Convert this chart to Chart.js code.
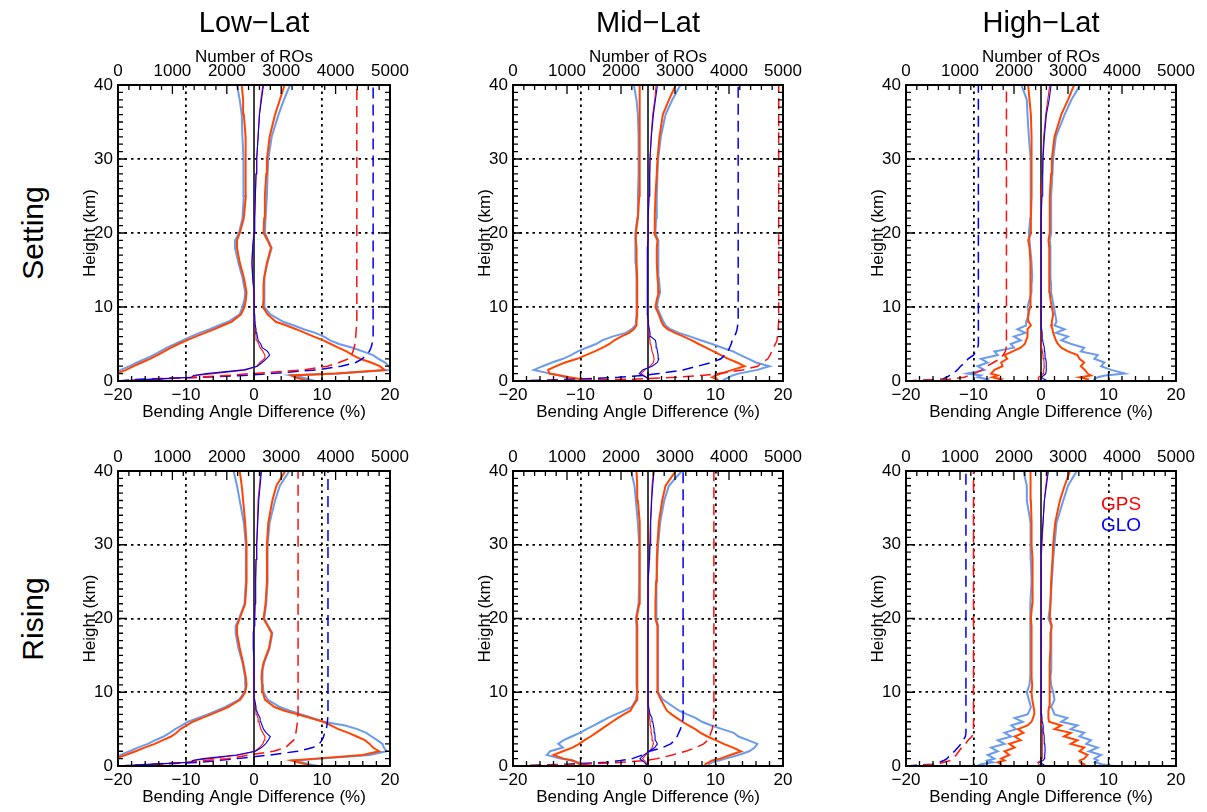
<!DOCTYPE html>
<html><head><meta charset="utf-8">
<script src="https://cdn.jsdelivr.net/npm/chart.js@4.4.1/dist/chart.umd.min.js"></script>
<style>
body{margin:0;background:#fff;width:1207px;height:812px;position:relative;overflow:hidden;font-family:"Liberation Sans",Arial,Helvetica,sans-serif}
canvas{position:absolute}
.t{position:absolute;color:#000;white-space:nowrap;line-height:1;transform:translate(-50%,-50%)}
</style></head><body>
<script>
// ---------------- DATA ----------------
// Height levels (km), shared by every profile
const H = [0,0.25,0.5,0.75,1, 1.5,2,2.5,3,3.5,4,4.5,5,5.5,6,6.5,7,7.5,8, 9,10,11,12,13,14, 16,18,19,20,22,25,28,30,33,36,38,40];
const columnTitles = ["Low\u2212Lat","Mid\u2212Lat","High\u2212Lat"];
const rowTitles = ["Setting","Rising"];
const seriesNames = ["GPS","GLO"];
const xTicks = [-20,-10,0,10,20];
const roTicks = [0,1000,2000,3000,4000,5000];
const hTicks = [0,10,20,30,40];

// Low-Lat Setting
const lowSetGpsLo  = [-25,-25,-25,-22,-20.2, -18.8,-17.7,-16.5,-15.3,-14.2,-13.2,-12.2,-11.1,-9.9,-8.6,-7.2,-5.8,-4.6,-3.3, -1.9,-1.4,-1.2,-1.1,-1.3,-1.5, -2.1,-2.5,-2.5,-2.1,-1.5,-1.2,-1.2,-1.2,-1.3,-1.5,-1.6,-1.8];
const lowSetGpsHi  = [8,7,6,5.5,12, 19.2,18.5,17.2,15.6,14.5,13.6,12.4,11.3,10.2,8.8,7.5,6.2,4.8,3.2, 2.0,1.3,1.4,1.4,1.4,1.5, 1.9,2.5,2.0,1.4,1.5,1.6,1.8,1.9,2.3,3.1,3.8,4.5];
const lowSetGloLo  = [-25,-25,-25,-23,-21, -19.6,-18.3,-17.2,-16,-14.8,-13.8,-12.8,-11.6,-10.5,-9.3,-8,-6.5,-5.2,-3.8, -2.1,-1.7,-1.4,-1.3,-1.5,-1.7, -2.3,-2.8,-2.8,-2.2,-1.7,-1.5,-1.5,-1.6,-1.7,-1.8,-2.1,-2.5];
const lowSetGloHi  = [9,8,7,5.5,12.5, 20.2,19.8,19.3,18.3,17.5,16,14.5,12.5,11.2,10.3,9,7.3,5.9,4.3, 2.4,1.5,1.5,1.5,1.5,1.6, 2.0,2.6,2.1,1.6,1.7,1.9,2.0,2.1,2.6,3.6,4.4,5.3];
const lowSetGpsMean= [-20,-14,-9,-8.5,-6, -1.2,0.4,0.9,1.5,1.6,1.3,0.9,0.7,0.4,0.3,0.25,0.2,0.15,0.1, 0.05,0,0,0,-0.1,-0.2, -0.3,-0.2,-0.1,0,0.1,0.2,0.3,0.4,0.6,0.8,1.0,1.3];
const lowSetGloMean= [-20,-15,-9.2,-8.9,-7, -1.5,0.5,1.2,1.8,2.3,2.0,1.2,1.0,0.6,0.5,0.4,0.3,0.2,0.15, 0.1,0.05,0,0,-0.1,-0.2, -0.3,-0.2,-0.1,0,0.1,0.2,0.3,0.4,0.6,0.8,1.1,1.4];
const lowSetGpsN   = [0,700,1450,2000,2450, 3400,3850,4060,4240,4290,4320,4340,4355,4365,4370,4375,4380,4385,4390, 4390,4390,4390,4390,4390,4390, 4390,4390,4390,4390,4390,4390,4390,4390,4390,4390,4390,4390];
const lowSetGloN   = [0,400,1500,2300,2800, 3650,4100,4370,4490,4560,4620,4650,4670,4680,4690,4690,4690,4690,4690, 4690,4690,4690,4690,4690,4690, 4690,4690,4690,4690,4690,4690,4690,4690,4690,4690,4690,4690];

// Mid-Lat Setting
const midSetGpsLo  = [-9,-9.9,-11.6,-13,-14.6, -14.8,-13.6,-12.3,-10.5,-9.2,-7.9,-6.7,-5.7,-5.0,-4.0,-2.8,-2.1,-1.7,-1.7, -1.6,-1.6,-1.6,-1.6,-1.6,-1.6, -1.7,-1.7,-1.8,-1.8,-1.5,-1.3,-1.2,-1.2,-1.2,-1.2,-1.3,-1.3];
const midSetGpsHi  = [10.5,10.2,9.5,10,10.8, 12.5,14.3,13.2,11.9,10.8,9.7,8.6,7.5,6.5,5.3,4.0,2.9,2.3,2.0, 1.6,1.1,1.3,1.6,1.5,1.4, 1.3,1.3,1.4,0.9,1.0,1.1,1.3,1.4,1.7,2.2,3.1,4.1];
const midSetGloLo  = [-10.5,-11.2,-12.2,-13.1,-14.5, -16.9,-15.6,-14.2,-12.6,-11.4,-10.4,-9.1,-7.7,-6.8,-5.3,-3.3,-2.4,-1.9,-1.8, -1.7,-1.7,-1.7,-1.7,-1.7,-1.7, -1.8,-1.8,-1.9,-1.9,-1.6,-1.5,-1.4,-1.4,-1.4,-1.5,-1.7,-2.1];
const midSetGloHi  = [11,11.4,12,12.5,13.4, 16.2,18.0,16.0,14.9,13.7,12.6,11.0,9.5,7.8,6.3,4.6,3.3,2.6,2.3, 1.8,1.3,1.5,1.8,1.7,1.6, 1.5,1.5,1.6,1.1,1.2,1.3,1.4,1.5,1.9,2.6,3.6,4.8];
const midSetGpsMean= [0,0,-0.2,-0.6,-1.0, -0.5,0.3,0.8,0.9,0.8,0.6,0.5,0.4,0.3,0.2,0.15,0.1,0.05,0, -0.1,-0.1,-0.1,-0.1,-0.1,-0.1, -0.1,-0.05,0,0,0.05,0.15,0.25,0.3,0.45,0.7,1.0,1.2];
const midSetGloMean= [0,0.1,-0.3,-0.8,-1.3, -0.8,0.6,1.4,1.6,1.5,1.4,1.3,1.2,1.1,0.4,0.3,0.2,0.1,0.05, -0.1,-0.1,-0.1,-0.1,-0.1,-0.1, -0.1,-0.05,0,0,0.05,0.15,0.25,0.3,0.5,0.8,1.1,1.4];
const midSetGpsN   = [0,2200,3000,3500,3810, 4250,4530,4610,4720,4760,4790,4820,4860,4890,4895,4905,4910,4915,4920, 4920,4920,4920,4920,4920,4920, 4920,4920,4920,4920,4920,4920,4920,4920,4920,4920,4920,4920];
const midSetGloN   = [0,1200,1950,2400,2700, 3150,3420,3680,3850,3920,3980,4010,4040,4060,4100,4130,4150,4160,4170, 4170,4170,4170,4170,4170,4170, 4170,4170,4170,4170,4170,4170,4170,4170,4170,4170,4170,4170];

// High-Lat Setting
const highSetGpsLo  = [-6.5,-5.9,-7.2,-6.4,-7.4, -6.9,-5.7,-5.9,-5.0,-5.4,-4.2,-3.0,-2.4,-2.2,-2.0,-2.0,-2.0,-1.5,-1.8, -1.9,-1.6,-1.6,-1.5,-1.5,-1.6, -1.6,-1.7,-1.9,-1.5,-1.5,-1.4,-1.4,-1.4,-1.4,-1.5,-1.7,-1.9];
const highSetGpsHi  = [6.5,6.9,5.7,7.4,6.9, 6.5,5.9,6.4,5.7,5.4,4.0,3.0,2.5,2.2,2.0,1.8,1.7,1.5,1.6, 1.8,1.6,1.4,1.3,1.3,1.2, 1.2,1.2,1.1,1.3,1.3,1.3,1.5,1.6,2.0,3.0,4.0,4.9];
const highSetGloLo  = [-8.5,-7.9,-9.4,-8.9,-10.9, -8.4,-9.4,-7.9,-8.9,-6.4,-6.9,-4.0,-4.5,-3.0,-4.0,-2.3,-3.5,-2.2,-2.2, -1.8,-2.0,-1.7,-1.4,-1.4,-1.3, -1.4,-1.6,-1.7,-1.8,-1.6,-1.5,-1.5,-1.6,-1.8,-2.0,-2.1,-2.9];
const highSetGloHi  = [8,7.9,8.4,9.5,12.4, 10.4,8.9,9.4,7.9,8.4,5.9,6.4,4.5,3.0,4.0,2.2,3.5,2.0,2.3, 2.1,1.9,1.7,1.5,1.5,1.4, 1.4,1.4,1.3,1.5,1.5,1.5,1.7,1.8,2.2,3.5,4.5,5.8];
const highSetGpsMean= [-0.5,-0.3,-0.4,0,0.3, 0.4,0.5,0.45,0.4,0.3,0.2,0.1,0.05,0.05,0.05,0.05,0.05,0,0, 0,0,0,0,0,0, 0,0,0,0,0.05,0.1,0.2,0.25,0.4,0.7,1.0,1.3];
const highSetGloMean= [1.0,0.5,0,0.4,0.7, 0.8,0.8,0.75,0.7,0.6,0.55,0.5,0.35,0.25,0.2,0.15,0.1,0.1,0.05, 0,0,0,0,0,0, 0,0,0,0,0.05,0.15,0.25,0.3,0.5,0.8,1.2,1.5];
const highSetGpsN   = [0,800,1080,1170,1260, 1420,1500,1620,1740,1800,1840,1855,1860,1860,1860,1860,1860,1860,1860, 1860,1860,1860,1860,1860,1860, 1860,1860,1860,1860,1860,1860,1860,1860,1860,1860,1860,1860];
const highSetGloN   = [0,675,750,810,875, 950,1010,1100,1150,1250,1300,1330,1340,1340,1340,1340,1340,1340,1340, 1340,1340,1340,1340,1340,1340, 1340,1340,1340,1340,1340,1340,1340,1340,1340,1340,1340,1340];

// Low-Lat Rising
const lowRiseGpsLo  = [-25,-25,-25,-22,-20.4, -18.9,-17.4,-16.1,-14.6,-13.4,-12.2,-11.4,-10.8,-9.9,-9.0,-7.7,-6.3,-5.0,-3.8, -2.0,-1.3,-1.1,-1.2,-1.4,-1.6, -2.1,-2.5,-2.5,-2.1,-1.3,-1.1,-1.1,-1.1,-1.3,-1.6,-1.8,-2.1];
const lowRiseGpsHi  = [8.5,7.5,6.5,5.5,9, 16,18.4,17.5,17.0,16.3,15.1,13.9,12.4,11.3,10.2,8.3,6.4,4.5,3.0, 1.6,1.3,1.2,1.1,1.2,1.4, 2.2,2.6,2.0,1.4,1.7,1.9,1.9,1.9,2.1,2.7,3.3,4.6];
const lowRiseGloLo  = [-25,-25,-25,-23,-21, -19.6,-18.3,-17.1,-15.6,-14.5,-13.3,-12.4,-11.6,-10.6,-9.7,-8.3,-6.8,-5.5,-4.2, -2.2,-1.4,-1.2,-1.3,-1.5,-1.7, -2.3,-2.7,-2.7,-2.2,-1.4,-1.2,-1.2,-1.2,-1.5,-2.1,-2.5,-3.0];
const lowRiseGloHi  = [9.5,8,7,6,10, 17,19.5,19.1,18.9,18.1,17.3,16.5,15.2,13.4,10.2,8.6,7.0,5.3,3.8, 2.0,1.4,1.3,1.2,1.3,1.5, 2.3,2.7,2.1,1.5,1.8,2.0,2.0,2.0,2.3,3.1,3.8,5.2];
const lowRiseGpsMean= [-20,-14,-9.5,-9,-6.5, -2.2,0.1,0.8,1.3,1.5,1.6,1.3,1.0,0.85,0.7,0.6,0.4,0.3,0.2, 0.05,0,0,0,0,0, -0.1,-0.1,0,0.1,0.15,0.2,0.3,0.4,0.5,0.6,0.8,1.0];
const lowRiseGloMean= [-20,-15,-9.2,-9,-7.5, -2.6,0.2,1.1,1.7,2.1,2.4,1.8,1.4,1.2,1.0,0.9,0.6,0.4,0.3, 0.1,0,0,0,0,0, -0.1,-0.1,0,0.1,0.15,0.25,0.3,0.4,0.55,0.7,0.9,1.1];
const lowRiseGpsN   = [0,640,1250,1620,2020, 2420,2860,3080,3150,3230,3260,3270,3280,3290,3300,3300,3310,3310,3310, 3310,3310,3310,3310,3310,3310, 3310,3310,3310,3310,3310,3310,3310,3310,3310,3310,3310,3310];
const lowRiseGloN   = [0,760,1500,1850,2190, 2800,3300,3580,3700,3750,3780,3800,3830,3840,3850,3855,3860,3860,3860, 3860,3860,3860,3860,3860,3860, 3860,3860,3860,3860,3860,3860,3860,3860,3860,3860,3860,3860];

// Mid-Lat Rising
const midRiseGpsLo  = [-9.5,-10.2,-10.6,-11.2,-12.5, -14.0,-12.6,-11.2,-10.2,-9.4,-8.5,-7.7,-6.9,-6.1,-5.3,-4.5,-3.6,-2.6,-2.3, -1.6,-1.5,-1.6,-1.6,-1.6,-1.6, -1.6,-1.6,-1.6,-1.7,-1.3,-1.2,-1.2,-1.2,-1.3,-1.5,-1.6,-1.7];
const midRiseGpsHi  = [8.5,8.5,9.0,9.5,10.7, 12.2,13.8,12.6,11.2,10.0,8.8,7.8,7.0,6.0,5.1,4.3,3.5,2.8,2.5, 1.9,1.4,1.4,1.4,1.4,1.4, 1.4,1.4,1.4,1.1,1.1,1.2,1.3,1.4,1.6,2.1,2.6,4.1];
const midRiseGloLo  = [-9.2,-9.6,-10.4,-11.2,-13.0, -15.0,-14.5,-12.6,-13.3,-12.5,-11.3,-10.1,-9.1,-8.0,-7.0,-6.0,-4.8,-3.5,-2.4, -1.8,-1.6,-1.7,-1.7,-1.7,-1.7, -1.7,-1.7,-1.7,-1.8,-1.4,-1.3,-1.3,-1.3,-1.5,-1.8,-2.0,-2.5];
const midRiseGloHi  = [9.0,9.0,9.5,10.5,11.5, 13.4,15.0,15.8,16.2,14.8,13.4,12.7,11.0,9.4,8.0,7.1,5.8,4.6,3.8, 2.2,1.5,1.5,1.5,1.5,1.5, 1.5,1.5,1.5,1.2,1.2,1.3,1.4,1.5,1.8,2.4,3.1,5.0];
const midRiseGpsMean= [-0.2,-0.2,-0.3,-0.6,-0.8, -0.3,0.2,0.6,0.8,0.7,0.6,0.5,0.45,0.35,0.3,0.25,0.2,0.1,0.05, 0,0,0,0,0,0, 0,0,0,0,0.05,0.1,0.2,0.25,0.35,0.5,0.6,0.8];
const midRiseGloMean= [-0.2,-0.3,-0.5,-0.9,-1.2, -0.6,0.2,1.0,1.4,1.1,1.05,1.0,0.9,0.8,0.7,0.6,0.3,0.2,0.1, 0,0,0,0,0,0, 0,0,0,0,0.05,0.1,0.2,0.3,0.4,0.55,0.7,0.9];
const midRiseGpsN   = [0,1350,2020,2460,2670, 2950,3200,3390,3530,3610,3640,3665,3690,3700,3710,3715,3720,3720,3720, 3720,3720,3720,3720,3720,3720, 3720,3720,3720,3720,3720,3720,3720,3720,3720,3720,3720,3720];
const midRiseGloN   = [0,1000,1720,1990,2210, 2400,2530,2770,2920,3000,3040,3070,3100,3120,3140,3150,3150,3150,3150, 3150,3150,3150,3150,3150,3150, 3150,3150,3150,3150,3150,3150,3150,3150,3150,3150,3150,3150];

// High-Lat Rising
const highRiseGpsLo  = [-6.0,-5.9,-6.4,-5.4,-5.9, -4.7,-5.4,-3.9,-4.7,-3.0,-3.9,-2.6,-3.4,-2.0,-1.4,-1.2,-1.0,-1.0,-1.1, -1.3,-1.4,-1.3,-1.4,-1.4,-1.4, -1.4,-1.4,-1.4,-1.5,-1.3,-1.2,-1.3,-1.4,-1.4,-1.5,-1.5,-1.6];
const highRiseGpsHi  = [6.0,6.4,5.8,5.7,6.4, 6.9,5.7,6.4,4.4,5.4,3.4,4.4,2.0,3.0,1.2,1.1,1.1,1.1,1.2, 1.2,1.3,1.3,1.3,1.3,1.3, 1.4,1.4,1.6,1.3,1.4,1.5,1.7,1.8,2.1,2.8,3.5,4.3];
const highRiseGloLo  = [-9.4,-8.9,-7.1,-7.9,-6.9, -7.9,-6.4,-7.4,-5.4,-6.4,-4.4,-5.4,-3.7,-4.4,-2.7,-3.9,-2.0,-1.7,-1.5, -1.8,-2.1,-1.7,-1.6,-1.6,-1.6, -1.6,-1.6,-1.6,-1.6,-1.5,-1.4,-1.5,-1.5,-1.6,-2.1,-2.1,-2.6];
const highRiseGloHi  = [10.8,9.0,8.0,8.4,7.9, 8.9,7.1,8.4,6.7,7.4,5.7,6.4,4.4,5.4,3.0,3.9,2.0,1.8,1.5, 2.0,1.8,1.5,1.4,1.5,1.5, 1.5,1.5,1.6,1.1,1.4,1.6,1.8,2.0,2.3,3.3,4.0,5.3];
const highRiseGpsMean= [-0.2,-0.3,-0.5,0,0.15, 0.2,0.2,0.2,0.2,0.2,0.2,0.15,0.15,0.1,0.1,0.05,0.05,0,0, 0,0,0,0,0,0, 0,0,0,0,0,0.05,0.1,0.15,0.3,0.5,0.7,1.0];
const highRiseGloMean= [0.6,0.3,-0.2,0.3,0.5, 0.55,0.6,0.6,0.55,0.5,0.45,0.4,0.35,0.3,0.2,0.15,0.1,0.05,0.05, 0,0,0,0,0,0, 0,0,0,0,0,0.05,0.1,0.1,0.3,0.5,0.8,1.1];
const highRiseGpsN   = [0,600,700,820,870, 930,980,1030,1100,1150,1220,1245,1250,1250,1250,1250,1250,1250,1250, 1250,1250,1250,1250,1250,1250, 1250,1250,1250,1250,1250,1250,1250,1250,1250,1250,1250,1250];
const highRiseGloN   = [0,500,620,700,760, 820,900,960,1020,1060,1100,1110,1110,1110,1110,1110,1110,1110,1110, 1110,1110,1110,1110,1110,1110, 1110,1110,1110,1110,1110,1110,1110,1110,1110,1110,1110,1110];

// zero reference line
const zeroX = [0,0];
const zeroH = [0,40];

// ---------------- LAYOUT ----------------
const COL_LEFT=[118,513,906], COL_W=[272,270,270], ROW_TOP=[85,471], ROW_H=[296,295];
const PAD_L=52, PAD_T=52, PAD_B=50, PAD_R=26;
const FONT='"Liberation Sans", Arial, Helvetica, sans-serif';
const C_GPS_ENV='#FF4500', C_GLO_ENV='#6A9BEE', C_GPS='#FF1010', C_GLO='#0000F0';

const PANELS=[
 {row:0,col:0,gLo:lowSetGpsLo,gHi:lowSetGpsHi,rLo:lowSetGloLo,rHi:lowSetGloHi,gM:lowSetGpsMean,rM:lowSetGloMean,gN:lowSetGpsN,rN:lowSetGloN},
 {row:0,col:1,gLo:midSetGpsLo,gHi:midSetGpsHi,rLo:midSetGloLo,rHi:midSetGloHi,gM:midSetGpsMean,rM:midSetGloMean,gN:midSetGpsN,rN:midSetGloN},
 {row:0,col:2,gLo:highSetGpsLo,gHi:highSetGpsHi,rLo:highSetGloLo,rHi:highSetGloHi,gM:highSetGpsMean,rM:highSetGloMean,gN:highSetGpsN,rN:highSetGloN},
 {row:1,col:0,gLo:lowRiseGpsLo,gHi:lowRiseGpsHi,rLo:lowRiseGloLo,rHi:lowRiseGloHi,gM:lowRiseGpsMean,rM:lowRiseGloMean,gN:lowRiseGpsN,rN:lowRiseGloN},
 {row:1,col:1,gLo:midRiseGpsLo,gHi:midRiseGpsHi,rLo:midRiseGloLo,rHi:midRiseGloHi,gM:midRiseGpsMean,rM:midRiseGloMean,gN:midRiseGpsN,rN:midRiseGloN},
 {row:1,col:2,gLo:highRiseGpsLo,gHi:highRiseGpsHi,rLo:highRiseGloLo,rHi:highRiseGloHi,gM:highRiseGpsMean,rM:highRiseGloMean,gN:highRiseGpsN,rN:highRiseGloN}
];

function addText(txt, cx, cy, size, color, rot){
  const d=document.createElement('div'); d.className='t'; d.textContent=txt;
  d.style.left=cx+'px'; d.style.top=cy+'px'; d.style.fontSize=size+'px'; d.style.color=color||'#000';
  if(rot) d.style.transform='translate(-50%,-50%) rotate(-90deg)';
  document.body.appendChild(d);
}

function pts(xs, hs){ return (hs||H).map((h,i)=>({x:xs[i], y:h})); }
function ln(xs, color, width, extra){
  return Object.assign({data:pts(xs), borderColor:color, backgroundColor:color, borderWidth:width,
    pointRadius:0, showLine:true, fill:false, tension:0}, extra||{});
}
const minusFmt = v => v<0 ? '\u2212'+Math.abs(v) : String(v);
const plainFmt = v => String(v);

const idlAxes={
  id:'idlAxes',
  afterDraw(chart){
    const {ctx, chartArea:a, scales:{x,x2,y}}=chart;
    ctx.save(); ctx.strokeStyle='#000'; ctx.lineWidth=1.3; ctx.beginPath();
    for(let v=-20; v<=20; v+=2){ const p=x.getPixelForValue(v); const L=(v%10===0)?9:5;
      ctx.moveTo(p,a.bottom); ctx.lineTo(p,a.bottom-L); }
    for(let n=0; n<=5000; n+=200){ const p=x2.getPixelForValue(n); const L=(n%1000===0)?9:5;
      ctx.moveTo(p,a.top); ctx.lineTo(p,a.top+L); }
    for(let h=0; h<=40; h+=1){ const p=y.getPixelForValue(h); const L=(h%10===0)?9:5;
      ctx.moveTo(a.left,p); ctx.lineTo(a.left+L,p); ctx.moveTo(a.right,p); ctx.lineTo(a.right-L,p); }
    ctx.stroke();
    ctx.lineWidth=2; ctx.strokeRect(a.left,a.top,a.right-a.left,a.bottom-a.top);
    ctx.restore();
  }
};

PANELS.forEach(P=>{
  const L=COL_LEFT[P.col], T=ROW_TOP[P.row], W=COL_W[P.col], Ht=ROW_H[P.row];
  const cv=document.createElement('canvas');
  cv.width=W+PAD_L+PAD_R; cv.height=Ht+PAD_T+PAD_B;
  cv.style.left=(L-PAD_L)+'px'; cv.style.top=(T-PAD_T)+'px';
  cv.style.width=cv.width+'px'; cv.style.height=cv.height+'px';
  document.body.appendChild(cv);
  const dash=[11,6];
  const datasets=[
    ln(P.rM, C_GLO, 1.1),
    ln(P.gM, C_GPS, 1.1),
    Object.assign(ln(zeroX,'#000',1.5),{data:pts(zeroX,zeroH)}),
    ln(P.gN, C_GPS, 1.5, {xAxisID:'x2', borderDash:dash}),
    ln(P.rN, C_GLO, 1.5, {xAxisID:'x2', borderDash:dash}),
    ln(P.gHi, C_GPS_ENV, 2),
    ln(P.gLo, C_GPS_ENV, 2),
    ln(P.rHi, C_GLO_ENV, 2),
    ln(P.rLo, C_GLO_ENV, 2)
  ];
  const tickFont={family:FONT,size:17};
  const titleFont={family:FONT,size:17};
  new Chart(cv,{
    type:'scatter',
    data:{datasets},
    options:{
      responsive:false, animation:false, devicePixelRatio:1, events:[],
      layout:{padding:{left:0,top:0,right:PAD_R,bottom:0}},
      plugins:{legend:{display:false},tooltip:{enabled:false}},
      scales:{
        x:{type:'linear',position:'bottom',min:-20,max:20,
          afterBuildTicks:s=>{s.ticks=xTicks.map(v=>({value:v}));},
          ticks:{color:'#000',font:tickFont,padding:4,maxRotation:0,autoSkip:false,callback:minusFmt},
          grid:{drawTicks:false,lineWidth:1.8,color:c=>(c.tick&&Math.abs(c.tick.value)===10)?'#000':'rgba(0,0,0,0)'},
          border:{display:false,dash:[2.5,4]},
          title:{display:true,text:'Bending Angle Difference (%)',color:'#000',font:titleFont,padding:{top:0,bottom:8}},
          afterFit:s=>{s.height=PAD_B;s.paddingLeft=0;s.paddingRight=0;}
        },
        x2:{type:'linear',position:'top',min:0,max:5000,
          afterBuildTicks:s=>{s.ticks=roTicks.map(v=>({value:v}));},
          ticks:{color:'#000',font:tickFont,padding:3,maxRotation:0,autoSkip:false,callback:plainFmt},
          grid:{display:false,drawTicks:false},
          border:{display:false},
          title:{display:P.row===0,text:'Number of ROs',color:'#000',font:titleFont,padding:{top:14,bottom:0}},
          afterFit:s=>{s.height=PAD_T;s.paddingLeft=0;s.paddingRight=0;}
        },
        y:{type:'linear',position:'left',min:0,max:40,
          afterBuildTicks:s=>{s.ticks=hTicks.map(v=>({value:v}));},
          ticks:{color:'#000',font:tickFont,padding:5,callback:plainFmt},
          grid:{drawTicks:false,lineWidth:1.8,color:c=>(c.tick&&c.tick.value>0&&c.tick.value<40)?'#000':'rgba(0,0,0,0)'},
          border:{display:false,dash:[2.5,4]},
          title:{display:true,text:'Height (km)',color:'#000',font:{family:FONT,size:17},padding:{top:14,bottom:0}},
          afterFit:s=>{s.width=PAD_L;s.paddingTop=0;s.paddingBottom=0;}
        }
      }
    },
    plugins:[idlAxes]
  });
});

// titles
columnTitles.forEach((t,i)=>addText(t, COL_LEFT[i]+COL_W[i]/2, 22, 29));
rowTitles.forEach((t,i)=>addText(t, 33, ROW_TOP[i]+ROW_H[i]/2, 30, '#000', true));
// legend in last panel
addText(seriesNames[0], 1121, 503, 19, '#FF0000');
addText(seriesNames[1], 1121, 524, 19, '#0000FF');
</script>
</body></html>
